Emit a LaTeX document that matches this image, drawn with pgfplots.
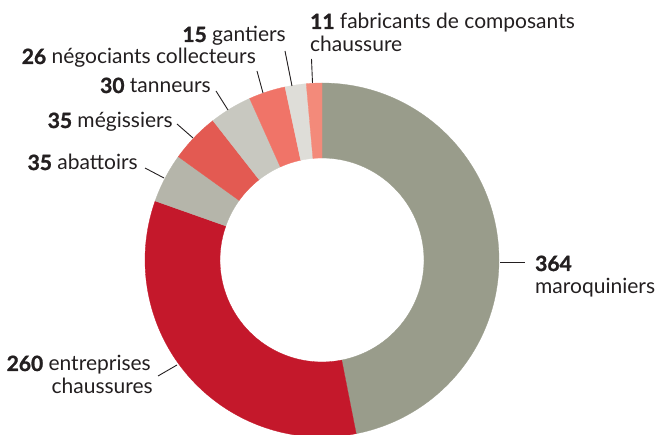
\documentclass[border=0pt]{standalone}
\usepackage{pgfplots}
\pgfplotsset{compat=1.18}
\usepackage{fontspec}
\setmainfont{Lato}[BoldFeatures={FakeBold=1.3}]
\definecolor{cA}{HTML}{999C8B}
\definecolor{cB}{HTML}{C4182B}
\definecolor{cC}{HTML}{B5B5AA}
\definecolor{cD}{HTML}{E35A52}
\definecolor{cE}{HTML}{C8C8C0}
\definecolor{cF}{HTML}{F07468}
\definecolor{cG}{HTML}{DEDDD8}
\definecolor{cH}{HTML}{F38A7A}
\definecolor{txt}{HTML}{231F20}
\begin{document}
\begin{tikzpicture}
\begin{axis}[name=ax,x=1pt,y=1pt,xmin=0,xmax=659,ymin=0,ymax=434,hide axis,scale only axis,clip=true]
\pgfmathsetmacro{\total}{364+260+35+35+30+26+15+11}
\gdef\cum{0}
\foreach \v/\c in {364/cA,260/cB,35/cC,35/cD,30/cE,26/cF,15/cG,11/cH}{
  \pgfmathsetmacro{\s}{90-\cum/\total*360}
  \pgfmathsetmacro{\e}{90-(\cum+\v)/\total*360}
  \edef\temp{\noexpand\fill[\c,draw=\c,line width=0.3pt] (axis cs:{322+177*cos(\s)},{174+177*sin(\s)}) arc[start angle=\s,end angle=\e,radius=177pt] -- (axis cs:{322+102*cos(\e)},{174+102*sin(\e)}) arc[start angle=\e,end angle=\s,radius=102pt] -- cycle;}
  \temp
  \pgfmathsetmacro{\newcum}{\cum+\v}
  \global\let\cum\newcum
}
\begin{scope}[every node/.style={inner sep=0pt,text=txt,font=\fontsize{21}{25}\selectfont}]
\draw[txt,line width=0.9pt] (axis cs:311.5,375) -- (axis cs:312.5,351);
\draw[txt,line width=0.9pt] (axis cs:285,383) -- (axis cs:292,348);
\draw[txt,line width=0.9pt] (axis cs:257,363) -- (axis cs:263,341);
\draw[txt,line width=0.9pt] (axis cs:216,343) -- (axis cs:228,324);
\draw[txt,line width=0.9pt] (axis cs:177,310) -- (axis cs:193,296);
\draw[txt,line width=0.9pt] (axis cs:145,266) -- (axis cs:164,256);
\draw[txt,line width=0.9pt] (axis cs:158,58) -- (axis cs:177,69);
\draw[txt,line width=0.9pt] (axis cs:500,172) -- (axis cs:525,172);
\node[anchor=base west] at (axis cs:310,405) {\textbf{11} fabricants de composants};
\node[anchor=base west] at (axis cs:310,382) {chaussure};
\node[anchor=base east] at (axis cs:286,392) {\textbf{15} gantiers};
\node[anchor=base east] at (axis cs:256,370) {\textbf{26} négociants collecteurs};
\node[anchor=base east] at (axis cs:211,341) {\textbf{30} tanneurs};
\node[anchor=base east] at (axis cs:173,306) {\textbf{35} mégissiers};
\node[anchor=base east] at (axis cs:138,264) {\textbf{35} abattoirs};
\node[anchor=base east] at (axis cs:151,63) {\textbf{260} entreprises};
\node[anchor=base east] at (axis cs:153,41) {chaussures};
\node[anchor=base west] at (axis cs:535,163) {\textbf{364}};
\node[anchor=base west] at (axis cs:535,140) {maroquiniers};
\end{scope}
\end{axis}
\pgfresetboundingbox
\path (ax.south west) rectangle (ax.north east);
\end{tikzpicture}
\end{document}
